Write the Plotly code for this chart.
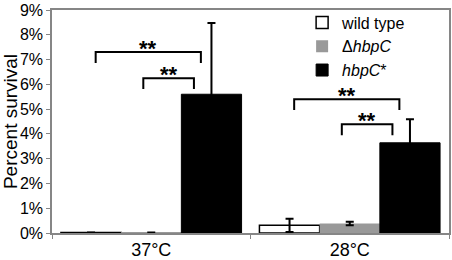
import plotly.graph_objects as go

categories = ["37°C", "28°C"]
series_names = ["wild type", "Δ<i>hbpC</i>", "<i>hbpC</i>*"]
wild_type = [0.02, 0.31]
wild_type_err = [0.0, 0.27]
delta_hbpc = [0.01, 0.38]
delta_hbpc_err = [0.01, 0.07]
hbpc_star = [5.60, 3.64]
hbpc_star_err = [2.88, 0.95]
y_ticks = [0, 1, 2, 3, 4, 5, 6, 7, 8, 9]
y_tick_labels = ["0%", "1%", "2%", "3%", "4%", "5%", "6%", "7%", "8%", "9%"]

# significance brackets: (category index, x0 offset, x1 offset, y top, leg drop)
brackets = [
    (0, -0.28, 0.25, 7.30, 0.44),
    (0, -0.04, 0.215, 6.25, 0.44),
    (1, -0.28, 0.25, 5.40, 0.44),
    (1, -0.04, 0.215, 4.39, 0.44),
]

fills = ["white", "#999999", "black"]
lines = [1.5, 0, 1]
vals = [wild_type, delta_hbpc, hbpc_star]
errs = [wild_type_err, delta_hbpc_err, hbpc_star_err]

fig = go.Figure()
for name, v, e, f, lw in zip(series_names, vals, errs, fills, lines):
    fig.add_trace(go.Bar(
        x=categories, y=v, name=name,
        marker=dict(color=f, line=dict(color="black", width=lw)),
        error_y=dict(type="data", array=e, visible=True, color="black",
                     thickness=2, width=4),
    ))

shapes = []
annotations = []
for ci, a, b, yt, d in brackets:
    x0 = ci + a
    x1 = ci + b
    shapes.append(dict(type="path", xref="x", yref="y",
                       path=f"M {x0},{yt-d} L {x0},{yt} L {x1},{yt} L {x1},{yt-d}",
                       line=dict(color="black", width=2)))
    annotations.append(dict(x=(x0 + x1) / 2, y=yt, xref="x", yref="y",
                            text="<b>**</b>", showarrow=False, yanchor="middle",
                            font=dict(size=22, color="black", family="Liberation Sans"),
                            yshift=4))

fig.update_layout(
    width=452, height=260,
    margin=dict(l=52, r=3, t=10, b=27, autoexpand=False),
    paper_bgcolor="white", plot_bgcolor="white",
    barmode="group", bargap=0.09, bargroupgap=0,
    font=dict(family="Liberation Sans, Arial, sans-serif", color="black"),
    showlegend=True,
    legend=dict(x=0.63, y=1.02, xanchor="left", yanchor="top",
                bgcolor="rgba(0,0,0,0)", font=dict(size=16),
                tracegroupgap=0),
    shapes=shapes,
    annotations=annotations,
)
fig.update_xaxes(
    showline=True, linecolor="#868686", linewidth=1.5, mirror=True,
    ticks="outside", tickson="boundaries", ticklen=4, tickcolor="#868686",
    tickfont=dict(size=18), showgrid=False, automargin=False,
)
fig.update_yaxes(
    range=[0, 9], tickvals=y_ticks, ticktext=y_tick_labels,
    showline=True, linecolor="#868686", linewidth=1.5, mirror=True,
    ticks="outside", ticklen=4, tickcolor="#868686",
    tickfont=dict(size=16), showgrid=False, zeroline=False, automargin=False,
    title=dict(text="Percent survival", font=dict(size=19), standoff=4),
)

fig.write_html("out.html", config={"displayModeBar": False},
               post_script="document.body.style.margin='0';")
